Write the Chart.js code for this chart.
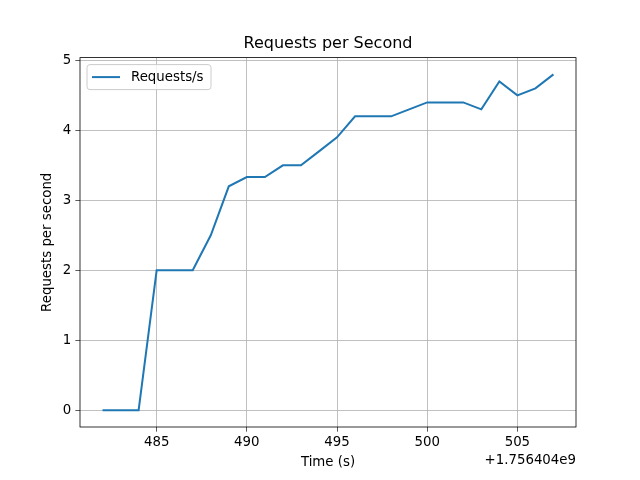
<!DOCTYPE html>
<html>
<head>
<meta charset="utf-8">
<script src="https://cdn.jsdelivr.net/npm/chart.js@4"></script>
<style>
  html, body { margin: 0; padding: 0; background: #fff; }
  #wrap { width: 640px; height: 480px; }
</style>
</head>
<body>
<div id="wrap"><canvas id="rpsChart" width="640" height="480"></canvas></div>
<script>
// Seconds (offset from 1.756404e9)
const segundos = [482, 483, 484, 485, 486, 487, 488, 489, 490, 491, 492, 493, 494,
                  495, 496, 497, 498, 499, 500, 501, 502, 503, 504, 505, 506, 507];
const peticiones = [0, 0, 0, 2.0, 2.0, 2.0, 2.5, 3.2, 3.333, 3.333, 3.5, 3.5, 3.7,
                    3.9, 4.2, 4.2, 4.2, 4.3, 4.4, 4.4, 4.4, 4.3, 4.7, 4.5, 4.6, 4.8];
const ticksX = [485, 490, 495, 500, 505];
const ticksY = [0, 1, 2, 3, 4, 5];
const offsetTexto = '+1.756404e9';
const titulo = 'Requests per Second';

const fuente = 'DejaVu Sans';
const grisGrid = '#b0b0b0';

// Título centrado sobre el área, marco, offset del eje x y leyenda
const marcoPlugin = {
    id: 'marco',
    afterDraw(chart) {
        const {ctx, chartArea: a} = chart;
        ctx.save();
        ctx.strokeStyle = '#000';
        ctx.lineWidth = 0.8;
        ctx.strokeRect(a.left, a.top, a.right - a.left, a.bottom - a.top);

        // título
        ctx.fillStyle = '#000';
        ctx.font = '16px "' + fuente + '"';
        ctx.textAlign = 'center';
        ctx.textBaseline = 'middle';
        ctx.fillText(titulo, (a.left + a.right) / 2, 43.5);

        // offset del eje x
        ctx.font = '13.33px "' + fuente + '"';
        ctx.textAlign = 'right';
        ctx.fillText(offsetTexto, a.right, 461);

        // leyenda
        const x = a.left + 7, y = a.top + 7, w = 124, h = 25, r = 3;
        ctx.beginPath();
        ctx.moveTo(x + r, y);
        ctx.arcTo(x + w, y, x + w, y + h, r);
        ctx.arcTo(x + w, y + h, x, y + h, r);
        ctx.arcTo(x, y + h, x, y, r);
        ctx.arcTo(x, y, x + w, y, r);
        ctx.closePath();
        ctx.fillStyle = 'rgba(255,255,255,0.8)';
        ctx.fill();
        ctx.strokeStyle = '#cccccc';
        ctx.lineWidth = 1;
        ctx.stroke();

        ctx.beginPath();
        ctx.moveTo(x + 5, y + 12.5);
        ctx.lineTo(x + 33, y + 12.5);
        ctx.strokeStyle = '#1f77b4';
        ctx.lineWidth = 2;
        ctx.stroke();

        ctx.fillStyle = '#000';
        ctx.textAlign = 'left';
        ctx.fillText(chart.data.datasets[0].label, x + 44, y + 13);
        ctx.restore();
    }
};

const datos = segundos.map((s, i) => ({x: s, y: peticiones[i]}));

const ctx = document.getElementById('rpsChart').getContext('2d');
new Chart(ctx, {
    type: 'line',
    data: {
        datasets: [{
            label: 'Requests/s',
            data: datos,
            borderColor: '#1f77b4',
            borderWidth: 2,
            pointRadius: 0,
            tension: 0,
            fill: false
        }]
    },
    options: {
        responsive: false,
        animation: false,
        layout: { padding: { top: 57.6, right: 64, bottom: 0, left: 0 } },
        plugins: {
            legend: { display: false },
            tooltip: { enabled: false },
            title: { display: false }
        },
        scales: {
            x: {
                type: 'linear',
                min: 480.75,
                max: 508.25,
                afterBuildTicks: s => { s.ticks = ticksX.map(v => ({value: v})); },
                afterFit: s => { s.height = 53; },
                grid: { color: grisGrid, lineWidth: 0.8, tickLength: 4.67, tickColor: '#333' },
                border: { display: false },
                ticks: {
                    color: '#000',
                    padding: 3,
                    maxRotation: 0,
                    font: { family: fuente, size: 13.33 },
                    callback: v => String(v)
                },
                title: {
                    display: true,
                    text: 'Time (s)',
                    color: '#000',
                    font: { family: fuente, size: 13.33, lineHeight: 1.2 },
                    padding: { top: 0, bottom: 9 }
                }
            },
            y: {
                min: -0.24,
                max: 5.04,
                afterBuildTicks: s => { s.ticks = ticksY.map(v => ({value: v})); },
                afterFit: s => { s.width = 80; },
                grid: { color: grisGrid, lineWidth: 0.8, tickLength: 4.67, tickColor: '#333' },
                border: { display: false },
                ticks: {
                    color: '#000',
                    padding: 4,
                    font: { family: fuente, size: 13.33 },
                    callback: v => String(v)
                },
                title: {
                    display: true,
                    text: 'Requests per second',
                    color: '#000',
                    font: { family: fuente, size: 13.33, lineHeight: 1.2 },
                    padding: { top: 40, bottom: 0 }
                }
            }
        }
    },
    plugins: [marcoPlugin]
});
</script>
</body>
</html>
